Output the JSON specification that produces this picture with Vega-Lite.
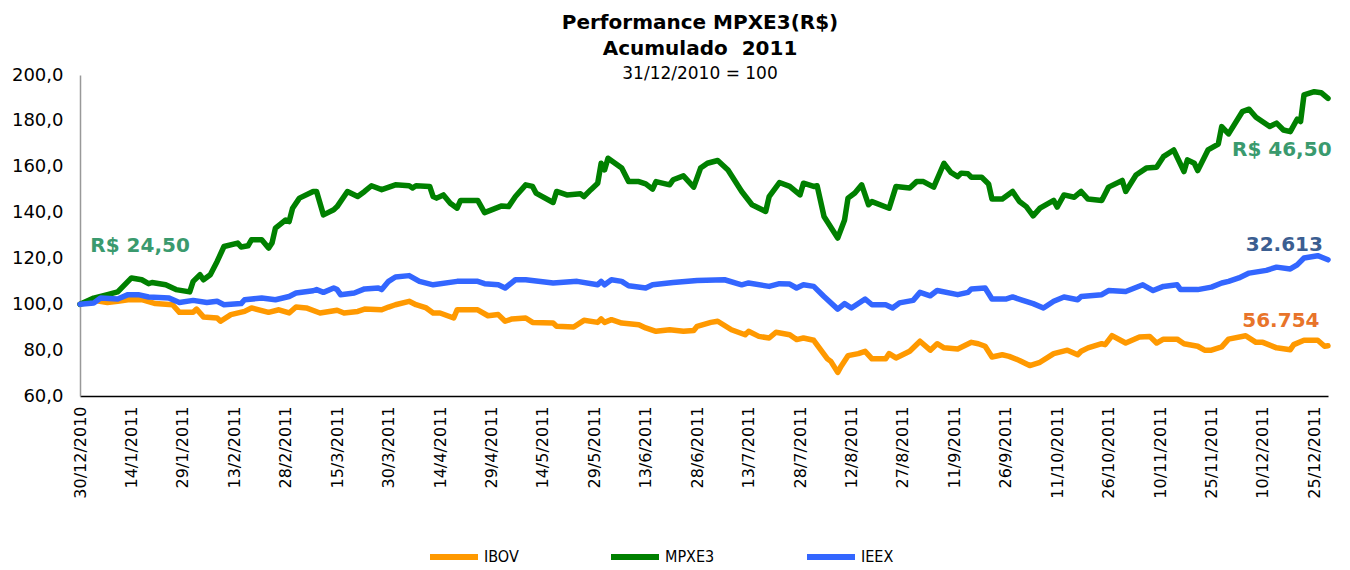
{
  "$schema": "https://vega.github.io/schema/vega-lite/v6.json",
  "width": 1248,
  "height": 321,
  "autosize": {"type": "none"},
  "padding": {"left": 80, "top": 75, "right": 22, "bottom": 174},
  "background": "white",
  "config": {
    "view": {"stroke": null},
    "font": "DejaVu Sans",
    "axis": {"grid": false, "ticks": false, "labelFont": "DejaVu Sans", "labelColor": "#000000", "title": null}
  },
  "title": {
    "text": ["Performance MPXE3(R$)", "Acumulado\u00a0 2011"],
    "subtitle": "31/12/2010 = 100",
    "font": "DejaVu Sans",
    "fontSize": 20,
    "fontWeight": "bold",
    "lineHeight": 26,
    "color": "#000000",
    "subtitleFont": "DejaVu Sans",
    "subtitleFontSize": 17,
    "subtitleColor": "#000000",
    "subtitlePadding": 7,
    "anchor": "middle",
    "offset": -16,
    "dx": -4
  },
  "datasets": {
    "series": [
      {"d": "2010-12-30", "s": "IBOV", "v": 100},
      {"d": "2011-01-03", "s": "IBOV", "v": 101.7},
      {"d": "2011-01-07", "s": "IBOV", "v": 100.8},
      {"d": "2011-01-10", "s": "IBOV", "v": 101.3},
      {"d": "2011-01-13", "s": "IBOV", "v": 102},
      {"d": "2011-01-17", "s": "IBOV", "v": 102},
      {"d": "2011-01-21", "s": "IBOV", "v": 100.3},
      {"d": "2011-01-26", "s": "IBOV", "v": 99.8},
      {"d": "2011-01-28", "s": "IBOV", "v": 96.5},
      {"d": "2011-02-01", "s": "IBOV", "v": 96.5},
      {"d": "2011-02-02", "s": "IBOV", "v": 97.9},
      {"d": "2011-02-04", "s": "IBOV", "v": 94.5},
      {"d": "2011-02-08", "s": "IBOV", "v": 94},
      {"d": "2011-02-09", "s": "IBOV", "v": 92.6},
      {"d": "2011-02-12", "s": "IBOV", "v": 95.5},
      {"d": "2011-02-16", "s": "IBOV", "v": 96.9},
      {"d": "2011-02-18", "s": "IBOV", "v": 98.4},
      {"d": "2011-02-23", "s": "IBOV", "v": 96.5},
      {"d": "2011-02-26", "s": "IBOV", "v": 97.6},
      {"d": "2011-03-01", "s": "IBOV", "v": 96.2},
      {"d": "2011-03-03", "s": "IBOV", "v": 98.8},
      {"d": "2011-03-06", "s": "IBOV", "v": 98.4},
      {"d": "2011-03-10", "s": "IBOV", "v": 96.2},
      {"d": "2011-03-15", "s": "IBOV", "v": 97.4},
      {"d": "2011-03-17", "s": "IBOV", "v": 96.2},
      {"d": "2011-03-21", "s": "IBOV", "v": 96.9},
      {"d": "2011-03-23", "s": "IBOV", "v": 97.9},
      {"d": "2011-03-28", "s": "IBOV", "v": 97.6},
      {"d": "2011-03-30", "s": "IBOV", "v": 98.8},
      {"d": "2011-04-01", "s": "IBOV", "v": 99.8},
      {"d": "2011-04-05", "s": "IBOV", "v": 101.3},
      {"d": "2011-04-07", "s": "IBOV", "v": 99.8},
      {"d": "2011-04-10", "s": "IBOV", "v": 98.4},
      {"d": "2011-04-12", "s": "IBOV", "v": 96.2},
      {"d": "2011-04-14", "s": "IBOV", "v": 96.2},
      {"d": "2011-04-18", "s": "IBOV", "v": 94},
      {"d": "2011-04-19", "s": "IBOV", "v": 97.6},
      {"d": "2011-04-25", "s": "IBOV", "v": 97.6},
      {"d": "2011-04-28", "s": "IBOV", "v": 95},
      {"d": "2011-05-01", "s": "IBOV", "v": 95.5},
      {"d": "2011-05-03", "s": "IBOV", "v": 92.6},
      {"d": "2011-05-05", "s": "IBOV", "v": 93.6},
      {"d": "2011-05-09", "s": "IBOV", "v": 94},
      {"d": "2011-05-11", "s": "IBOV", "v": 92.1},
      {"d": "2011-05-17", "s": "IBOV", "v": 91.8},
      {"d": "2011-05-18", "s": "IBOV", "v": 90.4},
      {"d": "2011-05-23", "s": "IBOV", "v": 90.1},
      {"d": "2011-05-26", "s": "IBOV", "v": 93},
      {"d": "2011-05-30", "s": "IBOV", "v": 92.1},
      {"d": "2011-05-31", "s": "IBOV", "v": 93.6},
      {"d": "2011-06-01", "s": "IBOV", "v": 92.1},
      {"d": "2011-06-03", "s": "IBOV", "v": 93.3},
      {"d": "2011-06-06", "s": "IBOV", "v": 91.8},
      {"d": "2011-06-11", "s": "IBOV", "v": 91.1},
      {"d": "2011-06-13", "s": "IBOV", "v": 89.7},
      {"d": "2011-06-16", "s": "IBOV", "v": 88.2},
      {"d": "2011-06-20", "s": "IBOV", "v": 88.9},
      {"d": "2011-06-24", "s": "IBOV", "v": 88.2},
      {"d": "2011-06-27", "s": "IBOV", "v": 88.6},
      {"d": "2011-06-28", "s": "IBOV", "v": 90.4},
      {"d": "2011-07-02", "s": "IBOV", "v": 92.1},
      {"d": "2011-07-04", "s": "IBOV", "v": 92.6},
      {"d": "2011-07-08", "s": "IBOV", "v": 88.9},
      {"d": "2011-07-12", "s": "IBOV", "v": 86.7},
      {"d": "2011-07-13", "s": "IBOV", "v": 88.2},
      {"d": "2011-07-16", "s": "IBOV", "v": 86},
      {"d": "2011-07-19", "s": "IBOV", "v": 85.3},
      {"d": "2011-07-21", "s": "IBOV", "v": 87.8},
      {"d": "2011-07-25", "s": "IBOV", "v": 86.7},
      {"d": "2011-07-27", "s": "IBOV", "v": 84.6},
      {"d": "2011-07-29", "s": "IBOV", "v": 85.3},
      {"d": "2011-08-01", "s": "IBOV", "v": 84.3},
      {"d": "2011-08-05", "s": "IBOV", "v": 76.2},
      {"d": "2011-08-06", "s": "IBOV", "v": 75.1},
      {"d": "2011-08-08", "s": "IBOV", "v": 70.3},
      {"d": "2011-08-09", "s": "IBOV", "v": 73},
      {"d": "2011-08-11", "s": "IBOV", "v": 77.6},
      {"d": "2011-08-14", "s": "IBOV", "v": 78.5},
      {"d": "2011-08-16", "s": "IBOV", "v": 79.5},
      {"d": "2011-08-18", "s": "IBOV", "v": 76.2},
      {"d": "2011-08-22", "s": "IBOV", "v": 76.2},
      {"d": "2011-08-23", "s": "IBOV", "v": 78.5},
      {"d": "2011-08-25", "s": "IBOV", "v": 76.6},
      {"d": "2011-08-29", "s": "IBOV", "v": 79.5},
      {"d": "2011-09-01", "s": "IBOV", "v": 83.9},
      {"d": "2011-09-04", "s": "IBOV", "v": 80},
      {"d": "2011-09-06", "s": "IBOV", "v": 82.8},
      {"d": "2011-09-08", "s": "IBOV", "v": 81},
      {"d": "2011-09-12", "s": "IBOV", "v": 80.5},
      {"d": "2011-09-16", "s": "IBOV", "v": 83.4},
      {"d": "2011-09-18", "s": "IBOV", "v": 82.8},
      {"d": "2011-09-20", "s": "IBOV", "v": 81.7},
      {"d": "2011-09-22", "s": "IBOV", "v": 77},
      {"d": "2011-09-25", "s": "IBOV", "v": 78},
      {"d": "2011-09-27", "s": "IBOV", "v": 77.3},
      {"d": "2011-09-30", "s": "IBOV", "v": 75.5},
      {"d": "2011-10-03", "s": "IBOV", "v": 73.3},
      {"d": "2011-10-06", "s": "IBOV", "v": 74.7},
      {"d": "2011-10-10", "s": "IBOV", "v": 78.5},
      {"d": "2011-10-14", "s": "IBOV", "v": 80},
      {"d": "2011-10-17", "s": "IBOV", "v": 78},
      {"d": "2011-10-18", "s": "IBOV", "v": 79.5},
      {"d": "2011-10-20", "s": "IBOV", "v": 81},
      {"d": "2011-10-24", "s": "IBOV", "v": 82.8},
      {"d": "2011-10-25", "s": "IBOV", "v": 82.4},
      {"d": "2011-10-27", "s": "IBOV", "v": 86.3},
      {"d": "2011-10-31", "s": "IBOV", "v": 83.1},
      {"d": "2011-11-04", "s": "IBOV", "v": 85.7},
      {"d": "2011-11-07", "s": "IBOV", "v": 86},
      {"d": "2011-11-09", "s": "IBOV", "v": 83.1},
      {"d": "2011-11-11", "s": "IBOV", "v": 84.8},
      {"d": "2011-11-15", "s": "IBOV", "v": 84.8},
      {"d": "2011-11-17", "s": "IBOV", "v": 82.8},
      {"d": "2011-11-21", "s": "IBOV", "v": 81.7},
      {"d": "2011-11-23", "s": "IBOV", "v": 80},
      {"d": "2011-11-25", "s": "IBOV", "v": 80},
      {"d": "2011-11-28", "s": "IBOV", "v": 81.4},
      {"d": "2011-11-30", "s": "IBOV", "v": 84.8},
      {"d": "2011-12-05", "s": "IBOV", "v": 86.3},
      {"d": "2011-12-08", "s": "IBOV", "v": 83.4},
      {"d": "2011-12-10", "s": "IBOV", "v": 83.4},
      {"d": "2011-12-14", "s": "IBOV", "v": 81},
      {"d": "2011-12-18", "s": "IBOV", "v": 80.2},
      {"d": "2011-12-19", "s": "IBOV", "v": 82.4},
      {"d": "2011-12-22", "s": "IBOV", "v": 84.3},
      {"d": "2011-12-26", "s": "IBOV", "v": 84.3},
      {"d": "2011-12-28", "s": "IBOV", "v": 81.7},
      {"d": "2011-12-29", "s": "IBOV", "v": 81.9},

      {"d": "2010-12-30", "s": "MPXE3", "v": 100},
      {"d": "2011-01-03", "s": "MPXE3", "v": 102.7},
      {"d": "2011-01-07", "s": "MPXE3", "v": 104.2},
      {"d": "2011-01-10", "s": "MPXE3", "v": 105.4},
      {"d": "2011-01-12", "s": "MPXE3", "v": 108.5},
      {"d": "2011-01-14", "s": "MPXE3", "v": 111.5},
      {"d": "2011-01-17", "s": "MPXE3", "v": 110.7},
      {"d": "2011-01-19", "s": "MPXE3", "v": 109},
      {"d": "2011-01-20", "s": "MPXE3", "v": 109.5},
      {"d": "2011-01-24", "s": "MPXE3", "v": 108.5},
      {"d": "2011-01-27", "s": "MPXE3", "v": 106.4},
      {"d": "2011-01-31", "s": "MPXE3", "v": 105.4},
      {"d": "2011-02-01", "s": "MPXE3", "v": 110},
      {"d": "2011-02-03", "s": "MPXE3", "v": 112.9},
      {"d": "2011-02-04", "s": "MPXE3", "v": 110.7},
      {"d": "2011-02-06", "s": "MPXE3", "v": 112.9},
      {"d": "2011-02-08", "s": "MPXE3", "v": 118.7},
      {"d": "2011-02-10", "s": "MPXE3", "v": 125.2},
      {"d": "2011-02-14", "s": "MPXE3", "v": 126.7},
      {"d": "2011-02-15", "s": "MPXE3", "v": 125},
      {"d": "2011-02-17", "s": "MPXE3", "v": 125.5},
      {"d": "2011-02-18", "s": "MPXE3", "v": 128.1},
      {"d": "2011-02-21", "s": "MPXE3", "v": 128.1},
      {"d": "2011-02-23", "s": "MPXE3", "v": 124.5},
      {"d": "2011-02-24", "s": "MPXE3", "v": 126.7},
      {"d": "2011-02-25", "s": "MPXE3", "v": 133.2},
      {"d": "2011-02-28", "s": "MPXE3", "v": 136.8},
      {"d": "2011-03-01", "s": "MPXE3", "v": 136.1},
      {"d": "2011-03-02", "s": "MPXE3", "v": 141.9},
      {"d": "2011-03-04", "s": "MPXE3", "v": 146.3},
      {"d": "2011-03-08", "s": "MPXE3", "v": 149.2},
      {"d": "2011-03-09", "s": "MPXE3", "v": 149.2},
      {"d": "2011-03-11", "s": "MPXE3", "v": 139},
      {"d": "2011-03-14", "s": "MPXE3", "v": 141.2},
      {"d": "2011-03-15", "s": "MPXE3", "v": 142.6},
      {"d": "2011-03-18", "s": "MPXE3", "v": 149.2},
      {"d": "2011-03-21", "s": "MPXE3", "v": 147},
      {"d": "2011-03-23", "s": "MPXE3", "v": 149.2},
      {"d": "2011-03-25", "s": "MPXE3", "v": 151.7},
      {"d": "2011-03-28", "s": "MPXE3", "v": 150},
      {"d": "2011-04-01", "s": "MPXE3", "v": 152.1},
      {"d": "2011-04-05", "s": "MPXE3", "v": 151.7},
      {"d": "2011-04-06", "s": "MPXE3", "v": 150.7},
      {"d": "2011-04-07", "s": "MPXE3", "v": 151.7},
      {"d": "2011-04-11", "s": "MPXE3", "v": 151.4},
      {"d": "2011-04-12", "s": "MPXE3", "v": 147},
      {"d": "2011-04-13", "s": "MPXE3", "v": 146.3},
      {"d": "2011-04-15", "s": "MPXE3", "v": 147.7},
      {"d": "2011-04-17", "s": "MPXE3", "v": 144.1},
      {"d": "2011-04-19", "s": "MPXE3", "v": 141.9},
      {"d": "2011-04-20", "s": "MPXE3", "v": 145.3},
      {"d": "2011-04-25", "s": "MPXE3", "v": 145.3},
      {"d": "2011-04-27", "s": "MPXE3", "v": 140},
      {"d": "2011-05-02", "s": "MPXE3", "v": 142.9},
      {"d": "2011-05-04", "s": "MPXE3", "v": 142.6},
      {"d": "2011-05-06", "s": "MPXE3", "v": 147},
      {"d": "2011-05-09", "s": "MPXE3", "v": 152.1},
      {"d": "2011-05-11", "s": "MPXE3", "v": 151.4},
      {"d": "2011-05-12", "s": "MPXE3", "v": 148.5},
      {"d": "2011-05-17", "s": "MPXE3", "v": 144.4},
      {"d": "2011-05-18", "s": "MPXE3", "v": 149.2},
      {"d": "2011-05-21", "s": "MPXE3", "v": 147.7},
      {"d": "2011-05-25", "s": "MPXE3", "v": 148.2},
      {"d": "2011-05-26", "s": "MPXE3", "v": 147},
      {"d": "2011-05-28", "s": "MPXE3", "v": 150},
      {"d": "2011-05-30", "s": "MPXE3", "v": 152.8},
      {"d": "2011-05-31", "s": "MPXE3", "v": 161.5},
      {"d": "2011-06-01", "s": "MPXE3", "v": 158.6},
      {"d": "2011-06-02", "s": "MPXE3", "v": 163.7},
      {"d": "2011-06-06", "s": "MPXE3", "v": 159.4},
      {"d": "2011-06-08", "s": "MPXE3", "v": 153.5},
      {"d": "2011-06-11", "s": "MPXE3", "v": 153.5},
      {"d": "2011-06-13", "s": "MPXE3", "v": 152.5},
      {"d": "2011-06-15", "s": "MPXE3", "v": 150.2},
      {"d": "2011-06-16", "s": "MPXE3", "v": 153.5},
      {"d": "2011-06-20", "s": "MPXE3", "v": 152.1},
      {"d": "2011-06-21", "s": "MPXE3", "v": 154.3},
      {"d": "2011-06-24", "s": "MPXE3", "v": 156},
      {"d": "2011-06-27", "s": "MPXE3", "v": 151.1},
      {"d": "2011-06-29", "s": "MPXE3", "v": 159.4},
      {"d": "2011-07-01", "s": "MPXE3", "v": 161.5},
      {"d": "2011-07-04", "s": "MPXE3", "v": 162.7},
      {"d": "2011-07-07", "s": "MPXE3", "v": 158.6},
      {"d": "2011-07-11", "s": "MPXE3", "v": 149.2},
      {"d": "2011-07-14", "s": "MPXE3", "v": 143.4},
      {"d": "2011-07-18", "s": "MPXE3", "v": 140.5},
      {"d": "2011-07-19", "s": "MPXE3", "v": 147},
      {"d": "2011-07-22", "s": "MPXE3", "v": 153.1},
      {"d": "2011-07-25", "s": "MPXE3", "v": 151.4},
      {"d": "2011-07-28", "s": "MPXE3", "v": 147.7},
      {"d": "2011-07-29", "s": "MPXE3", "v": 152.8},
      {"d": "2011-08-01", "s": "MPXE3", "v": 151.4},
      {"d": "2011-08-02", "s": "MPXE3", "v": 151.7},
      {"d": "2011-08-04", "s": "MPXE3", "v": 138.3},
      {"d": "2011-08-08", "s": "MPXE3", "v": 128.9},
      {"d": "2011-08-10", "s": "MPXE3", "v": 136.8},
      {"d": "2011-08-11", "s": "MPXE3", "v": 146.3},
      {"d": "2011-08-13", "s": "MPXE3", "v": 148.5},
      {"d": "2011-08-15", "s": "MPXE3", "v": 152.1},
      {"d": "2011-08-17", "s": "MPXE3", "v": 143.4},
      {"d": "2011-08-18", "s": "MPXE3", "v": 144.8},
      {"d": "2011-08-23", "s": "MPXE3", "v": 141.9},
      {"d": "2011-08-25", "s": "MPXE3", "v": 151.4},
      {"d": "2011-08-29", "s": "MPXE3", "v": 150.7},
      {"d": "2011-08-31", "s": "MPXE3", "v": 153.5},
      {"d": "2011-09-02", "s": "MPXE3", "v": 153.5},
      {"d": "2011-09-05", "s": "MPXE3", "v": 151.1},
      {"d": "2011-09-08", "s": "MPXE3", "v": 161.5},
      {"d": "2011-09-10", "s": "MPXE3", "v": 157.5},
      {"d": "2011-09-12", "s": "MPXE3", "v": 155.7},
      {"d": "2011-09-13", "s": "MPXE3", "v": 157.2},
      {"d": "2011-09-15", "s": "MPXE3", "v": 156.9},
      {"d": "2011-09-16", "s": "MPXE3", "v": 155.4},
      {"d": "2011-09-19", "s": "MPXE3", "v": 155.4},
      {"d": "2011-09-21", "s": "MPXE3", "v": 152.5},
      {"d": "2011-09-22", "s": "MPXE3", "v": 145.9},
      {"d": "2011-09-25", "s": "MPXE3", "v": 145.9},
      {"d": "2011-09-28", "s": "MPXE3", "v": 149.2},
      {"d": "2011-09-30", "s": "MPXE3", "v": 144.8},
      {"d": "2011-10-02", "s": "MPXE3", "v": 142.6},
      {"d": "2011-10-04", "s": "MPXE3", "v": 138.6},
      {"d": "2011-10-06", "s": "MPXE3", "v": 141.9},
      {"d": "2011-10-10", "s": "MPXE3", "v": 145.3},
      {"d": "2011-10-11", "s": "MPXE3", "v": 142.4},
      {"d": "2011-10-13", "s": "MPXE3", "v": 147.7},
      {"d": "2011-10-16", "s": "MPXE3", "v": 146.7},
      {"d": "2011-10-18", "s": "MPXE3", "v": 149.2},
      {"d": "2011-10-20", "s": "MPXE3", "v": 145.9},
      {"d": "2011-10-24", "s": "MPXE3", "v": 145.3},
      {"d": "2011-10-26", "s": "MPXE3", "v": 151.1},
      {"d": "2011-10-30", "s": "MPXE3", "v": 154},
      {"d": "2011-10-31", "s": "MPXE3", "v": 149.2},
      {"d": "2011-11-03", "s": "MPXE3", "v": 156.4},
      {"d": "2011-11-06", "s": "MPXE3", "v": 159.4},
      {"d": "2011-11-09", "s": "MPXE3", "v": 159.8},
      {"d": "2011-11-11", "s": "MPXE3", "v": 164.4},
      {"d": "2011-11-14", "s": "MPXE3", "v": 167.3},
      {"d": "2011-11-17", "s": "MPXE3", "v": 157.9},
      {"d": "2011-11-18", "s": "MPXE3", "v": 163},
      {"d": "2011-11-20", "s": "MPXE3", "v": 161.5},
      {"d": "2011-11-21", "s": "MPXE3", "v": 158.3},
      {"d": "2011-11-24", "s": "MPXE3", "v": 167.3},
      {"d": "2011-11-27", "s": "MPXE3", "v": 169.9},
      {"d": "2011-11-28", "s": "MPXE3", "v": 177.5},
      {"d": "2011-11-30", "s": "MPXE3", "v": 174.3},
      {"d": "2011-12-04", "s": "MPXE3", "v": 184},
      {"d": "2011-12-06", "s": "MPXE3", "v": 185.1},
      {"d": "2011-12-08", "s": "MPXE3", "v": 181.6},
      {"d": "2011-12-12", "s": "MPXE3", "v": 177.5},
      {"d": "2011-12-14", "s": "MPXE3", "v": 179},
      {"d": "2011-12-16", "s": "MPXE3", "v": 176},
      {"d": "2011-12-18", "s": "MPXE3", "v": 175.3},
      {"d": "2011-12-20", "s": "MPXE3", "v": 180.7},
      {"d": "2011-12-21", "s": "MPXE3", "v": 179.7},
      {"d": "2011-12-22", "s": "MPXE3", "v": 191.3},
      {"d": "2011-12-25", "s": "MPXE3", "v": 192.7},
      {"d": "2011-12-27", "s": "MPXE3", "v": 192.3},
      {"d": "2011-12-29", "s": "MPXE3", "v": 189.8},

      {"d": "2010-12-30", "s": "IEEX", "v": 100},
      {"d": "2011-01-03", "s": "IEEX", "v": 100.6},
      {"d": "2011-01-05", "s": "IEEX", "v": 102.7},
      {"d": "2011-01-10", "s": "IEEX", "v": 102.3},
      {"d": "2011-01-13", "s": "IEEX", "v": 104.2},
      {"d": "2011-01-16", "s": "IEEX", "v": 104.2},
      {"d": "2011-01-19", "s": "IEEX", "v": 103.2},
      {"d": "2011-01-25", "s": "IEEX", "v": 102.7},
      {"d": "2011-01-28", "s": "IEEX", "v": 100.8},
      {"d": "2011-02-01", "s": "IEEX", "v": 101.7},
      {"d": "2011-02-05", "s": "IEEX", "v": 100.8},
      {"d": "2011-02-08", "s": "IEEX", "v": 101.3},
      {"d": "2011-02-10", "s": "IEEX", "v": 99.8},
      {"d": "2011-02-15", "s": "IEEX", "v": 100.3},
      {"d": "2011-02-16", "s": "IEEX", "v": 102},
      {"d": "2011-02-21", "s": "IEEX", "v": 102.7},
      {"d": "2011-02-25", "s": "IEEX", "v": 102},
      {"d": "2011-03-01", "s": "IEEX", "v": 103.4},
      {"d": "2011-03-03", "s": "IEEX", "v": 104.9},
      {"d": "2011-03-08", "s": "IEEX", "v": 105.9},
      {"d": "2011-03-09", "s": "IEEX", "v": 106.4},
      {"d": "2011-03-11", "s": "IEEX", "v": 105.2},
      {"d": "2011-03-14", "s": "IEEX", "v": 107.1},
      {"d": "2011-03-15", "s": "IEEX", "v": 106.4},
      {"d": "2011-03-16", "s": "IEEX", "v": 104.2},
      {"d": "2011-03-20", "s": "IEEX", "v": 104.9},
      {"d": "2011-03-23", "s": "IEEX", "v": 106.7},
      {"d": "2011-03-27", "s": "IEEX", "v": 107.1},
      {"d": "2011-03-28", "s": "IEEX", "v": 106.4},
      {"d": "2011-03-30", "s": "IEEX", "v": 110},
      {"d": "2011-04-01", "s": "IEEX", "v": 111.9},
      {"d": "2011-04-05", "s": "IEEX", "v": 112.5},
      {"d": "2011-04-08", "s": "IEEX", "v": 110},
      {"d": "2011-04-12", "s": "IEEX", "v": 108.5},
      {"d": "2011-04-19", "s": "IEEX", "v": 110},
      {"d": "2011-04-25", "s": "IEEX", "v": 110},
      {"d": "2011-04-27", "s": "IEEX", "v": 109},
      {"d": "2011-05-01", "s": "IEEX", "v": 108.5},
      {"d": "2011-05-03", "s": "IEEX", "v": 107.1},
      {"d": "2011-05-06", "s": "IEEX", "v": 110.7},
      {"d": "2011-05-09", "s": "IEEX", "v": 110.7},
      {"d": "2011-05-17", "s": "IEEX", "v": 109.3},
      {"d": "2011-05-24", "s": "IEEX", "v": 110},
      {"d": "2011-05-30", "s": "IEEX", "v": 108.5},
      {"d": "2011-05-31", "s": "IEEX", "v": 110},
      {"d": "2011-06-01", "s": "IEEX", "v": 108.5},
      {"d": "2011-06-03", "s": "IEEX", "v": 110.7},
      {"d": "2011-06-06", "s": "IEEX", "v": 110},
      {"d": "2011-06-08", "s": "IEEX", "v": 108.1},
      {"d": "2011-06-13", "s": "IEEX", "v": 107.1},
      {"d": "2011-06-15", "s": "IEEX", "v": 108.5},
      {"d": "2011-06-21", "s": "IEEX", "v": 109.5},
      {"d": "2011-06-28", "s": "IEEX", "v": 110.4},
      {"d": "2011-07-06", "s": "IEEX", "v": 110.7},
      {"d": "2011-07-11", "s": "IEEX", "v": 108.5},
      {"d": "2011-07-13", "s": "IEEX", "v": 109.3},
      {"d": "2011-07-19", "s": "IEEX", "v": 107.8},
      {"d": "2011-07-22", "s": "IEEX", "v": 109},
      {"d": "2011-07-25", "s": "IEEX", "v": 108.8},
      {"d": "2011-07-27", "s": "IEEX", "v": 107.1},
      {"d": "2011-07-29", "s": "IEEX", "v": 108.5},
      {"d": "2011-08-01", "s": "IEEX", "v": 107.8},
      {"d": "2011-08-04", "s": "IEEX", "v": 103.4},
      {"d": "2011-08-08", "s": "IEEX", "v": 97.9},
      {"d": "2011-08-10", "s": "IEEX", "v": 100.3},
      {"d": "2011-08-12", "s": "IEEX", "v": 98.4},
      {"d": "2011-08-16", "s": "IEEX", "v": 102.3},
      {"d": "2011-08-18", "s": "IEEX", "v": 99.8},
      {"d": "2011-08-22", "s": "IEEX", "v": 99.8},
      {"d": "2011-08-24", "s": "IEEX", "v": 98.4},
      {"d": "2011-08-26", "s": "IEEX", "v": 100.6},
      {"d": "2011-08-30", "s": "IEEX", "v": 101.7},
      {"d": "2011-09-01", "s": "IEEX", "v": 105.2},
      {"d": "2011-09-04", "s": "IEEX", "v": 103.7},
      {"d": "2011-09-06", "s": "IEEX", "v": 106},
      {"d": "2011-09-12", "s": "IEEX", "v": 104.2},
      {"d": "2011-09-15", "s": "IEEX", "v": 105.2},
      {"d": "2011-09-16", "s": "IEEX", "v": 106.7},
      {"d": "2011-09-20", "s": "IEEX", "v": 107.1},
      {"d": "2011-09-22", "s": "IEEX", "v": 102.3},
      {"d": "2011-09-26", "s": "IEEX", "v": 102.3},
      {"d": "2011-09-28", "s": "IEEX", "v": 103.2},
      {"d": "2011-10-01", "s": "IEEX", "v": 101.7},
      {"d": "2011-10-04", "s": "IEEX", "v": 100.3},
      {"d": "2011-10-07", "s": "IEEX", "v": 98.4},
      {"d": "2011-10-10", "s": "IEEX", "v": 101.3},
      {"d": "2011-10-13", "s": "IEEX", "v": 103.2},
      {"d": "2011-10-17", "s": "IEEX", "v": 102},
      {"d": "2011-10-18", "s": "IEEX", "v": 103.4},
      {"d": "2011-10-24", "s": "IEEX", "v": 104.2},
      {"d": "2011-10-26", "s": "IEEX", "v": 106},
      {"d": "2011-10-31", "s": "IEEX", "v": 105.6},
      {"d": "2011-11-05", "s": "IEEX", "v": 108.5},
      {"d": "2011-11-08", "s": "IEEX", "v": 106},
      {"d": "2011-11-11", "s": "IEEX", "v": 107.8},
      {"d": "2011-11-15", "s": "IEEX", "v": 108.5},
      {"d": "2011-11-16", "s": "IEEX", "v": 106.4},
      {"d": "2011-11-21", "s": "IEEX", "v": 106.4},
      {"d": "2011-11-25", "s": "IEEX", "v": 107.5},
      {"d": "2011-11-28", "s": "IEEX", "v": 109.3},
      {"d": "2011-11-30", "s": "IEEX", "v": 110},
      {"d": "2011-12-03", "s": "IEEX", "v": 111.5},
      {"d": "2011-12-06", "s": "IEEX", "v": 113.6},
      {"d": "2011-12-11", "s": "IEEX", "v": 114.8},
      {"d": "2011-12-14", "s": "IEEX", "v": 116.2},
      {"d": "2011-12-18", "s": "IEEX", "v": 115.4},
      {"d": "2011-12-20", "s": "IEEX", "v": 117.2},
      {"d": "2011-12-22", "s": "IEEX", "v": 120.2},
      {"d": "2011-12-26", "s": "IEEX", "v": 121.2},
      {"d": "2011-12-27", "s": "IEEX", "v": 120.6},
      {"d": "2011-12-29", "s": "IEEX", "v": 119.4}
    ],
    "labels": [
      {"d": "2011-01-02", "s": "MPXE3", "v": 125.5, "t": "R$ 24,50"},
      {"d": "2011-12-01", "s": "MPXE3", "v": 167.3, "t": "R$ 46,50"},
      {"d": "2011-12-05", "s": "IEEX", "v": 126.0, "t": "32.613"},
      {"d": "2011-12-04", "s": "IBOV", "v": 92.9, "t": "56.754"}
    ]
  },
  "layer": [
    {
      "data": {"name": "series"},
      "mark": {"type": "line", "strokeWidth": 5.5, "strokeJoin": "round", "strokeCap": "round"},
      "encoding": {
        "x": {
          "field": "d",
          "type": "temporal",
          "scale": {"type": "utc", "domain": [{"year": 2010, "month": 12, "date": 30, "utc": true}, {"year": 2011, "month": 12, "date": 29, "utc": true}]},
          "axis": {
            "values": [
              {"year": 2010, "month": 12, "date": 30, "utc": true},
              {"year": 2011, "month": 1, "date": 14, "utc": true},
              {"year": 2011, "month": 1, "date": 29, "utc": true},
              {"year": 2011, "month": 2, "date": 13, "utc": true},
              {"year": 2011, "month": 2, "date": 28, "utc": true},
              {"year": 2011, "month": 3, "date": 15, "utc": true},
              {"year": 2011, "month": 3, "date": 30, "utc": true},
              {"year": 2011, "month": 4, "date": 14, "utc": true},
              {"year": 2011, "month": 4, "date": 29, "utc": true},
              {"year": 2011, "month": 5, "date": 14, "utc": true},
              {"year": 2011, "month": 5, "date": 29, "utc": true},
              {"year": 2011, "month": 6, "date": 13, "utc": true},
              {"year": 2011, "month": 6, "date": 28, "utc": true},
              {"year": 2011, "month": 7, "date": 13, "utc": true},
              {"year": 2011, "month": 7, "date": 28, "utc": true},
              {"year": 2011, "month": 8, "date": 12, "utc": true},
              {"year": 2011, "month": 8, "date": 27, "utc": true},
              {"year": 2011, "month": 9, "date": 11, "utc": true},
              {"year": 2011, "month": 9, "date": 26, "utc": true},
              {"year": 2011, "month": 10, "date": 11, "utc": true},
              {"year": 2011, "month": 10, "date": 26, "utc": true},
              {"year": 2011, "month": 11, "date": 10, "utc": true},
              {"year": 2011, "month": 11, "date": 25, "utc": true},
              {"year": 2011, "month": 12, "date": 10, "utc": true},
              {"year": 2011, "month": 12, "date": 25, "utc": true}
            ],
            "labelExpr": "utcFormat(datum.value, '%-d/%-m/%Y')",
            "labelAngle": -90,
            "labelFontSize": 16,
            "labelPadding": 10,
            "labelOverlap": false,
            "labelFlush": false,
            "domainColor": "#000000",
            "domainWidth": 1.5
          }
        },
        "y": {
          "field": "v",
          "type": "quantitative",
          "scale": {"domain": [60, 200], "nice": false, "zero": false},
          "axis": {
            "values": [60, 80, 100, 120, 140, 160, 180, 200],
            "labelExpr": "replace(format(datum.value, '.1f'), '.', ',')",
            "labelFontSize": 18,
            "labelPadding": 17,
            "domainColor": "#999999",
            "domainWidth": 1.5
          }
        },
        "color": {
          "field": "s",
          "type": "nominal",
          "sort": ["IBOV", "MPXE3", "IEEX"],
          "scale": {"domain": ["IBOV", "MPXE3", "IEEX"], "range": ["#FF9900", "#008000", "#3366FF"]},
          "legend": {
            "title": null,
            "orient": "none",
            "legendX": 347,
            "legendY": 455,
            "direction": "horizontal",
            "symbolType": "stroke",
            "symbolSize": 2304,
            "symbolStrokeWidth": 6,
            "labelFont": "'DejaVu Sans Condensed', 'Liberation Sans', sans-serif",
            "labelFontSize": 16,
            "labelColor": "#000000",
            "labelOffset": 3,
            "columnPadding": 80
          }
        }
      }
    },
    {
      "data": {"name": "labels"},
      "mark": {"type": "text", "align": "left", "baseline": "middle", "font": "DejaVu Sans", "fontSize": 20, "fontWeight": "bold"},
      "encoding": {
        "x": {"field": "d", "type": "temporal"},
        "y": {"field": "v", "type": "quantitative"},
        "text": {"field": "t"},
        "color": {
          "field": "s",
          "type": "nominal",
          "scale": {"domain": ["IBOV", "MPXE3", "IEEX"], "range": ["#E8742A", "#3A9A6E", "#3B5E91"]},
          "legend": null
        }
      }
    }
  ],
  "resolve": {"scale": {"color": "independent"}}
}
